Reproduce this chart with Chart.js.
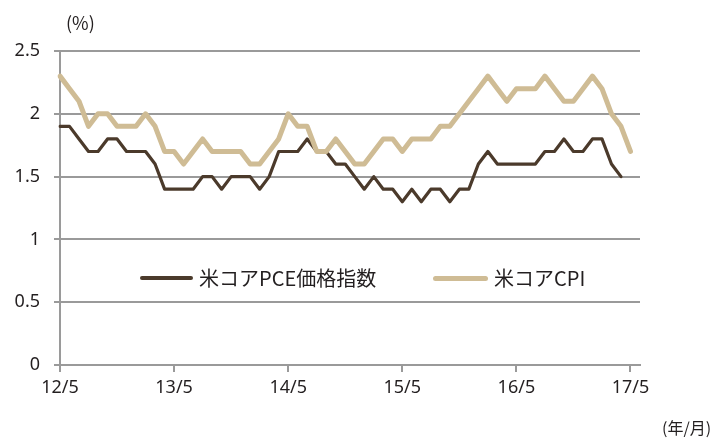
<!DOCTYPE html>
<html>
<head>
<meta charset="utf-8">
<script src="https://cdn.jsdelivr.net/npm/chart.js@4.4.1/dist/chart.umd.min.js"></script>
<style>
  html, body { margin: 0; padding: 0; background: #fff; }
  #wrap { position: relative; width: 720px; height: 438px; }
  .txt { position: absolute; font-family: "Noto Sans CJK JP", "Noto Sans", sans-serif; color: #231f20; white-space: nowrap; }
  .swatch { position: absolute; border-radius: 3px; }
</style>
</head>
<body>
<div id="wrap">
  <canvas id="myChart" width="720" height="438"></canvas>
  <div class="txt" style="left:66px; top:9px; font-size:18px;">(%)</div>
  <div class="txt" style="left:662px; top:415px; font-size:16px;">(年/月)</div>
  <div id="legend"></div>
</div>
<script>
// 月次ラベル 12/5 〜 17/5（軸は右端に1か月分の余白）
var labels = [];
for (var y = 12; y <= 17; y++) {
    for (var m = 1; m <= 12; m++) {
        if ((y === 12 && m < 5) || (y === 17 && m > 5)) continue;
        labels.push(y + '/' + m);
    }
}
labels.push('');

var pceLabel = '米コアPCE価格指数';
var cpiLabel = '米コアCPI';

// 米コアPCE価格指数（前年比, %）
var pceValues = [
    1.9, 1.9, 1.8, 1.7, 1.7, 1.8, 1.8, 1.7, 1.7, 1.7, 1.6, 1.4,
    1.4, 1.4, 1.4, 1.5, 1.5, 1.4, 1.5, 1.5, 1.5, 1.4, 1.5, 1.7,
    1.7, 1.7, 1.8, 1.7, 1.7, 1.6, 1.6, 1.5, 1.4, 1.5, 1.4, 1.4,
    1.3, 1.4, 1.3, 1.4, 1.4, 1.3, 1.4, 1.4, 1.6, 1.7, 1.6, 1.6,
    1.6, 1.6, 1.6, 1.7, 1.7, 1.8, 1.7, 1.7, 1.8, 1.8, 1.6, 1.5, null
];

// 米コアCPI（前年比, %）
var cpiValues = [
    2.3, 2.2, 2.1, 1.9, 2.0, 2.0, 1.9, 1.9, 1.9, 2.0, 1.9, 1.7,
    1.7, 1.6, 1.7, 1.8, 1.7, 1.7, 1.7, 1.7, 1.6, 1.6, 1.7, 1.8,
    2.0, 1.9, 1.9, 1.7, 1.7, 1.8, 1.7, 1.6, 1.6, 1.7, 1.8, 1.8,
    1.7, 1.8, 1.8, 1.8, 1.9, 1.9, 2.0, 2.1, 2.2, 2.3, 2.2, 2.1,
    2.2, 2.2, 2.2, 2.3, 2.2, 2.1, 2.1, 2.2, 2.3, 2.2, 2.0, 1.9, 1.7
];

var yTicks = [0, 0.5, 1, 1.5, 2, 2.5];

var pceColor = '#4b3a2b';
var cpiColor = '#cfbc95';
var gridColor = '#9a9a9a';
var tickFont = { family: '"Noto Sans", "Open Sans", sans-serif', size: 18 };

var datasets = [
    { label: pceLabel, data: pceValues, borderColor: pceColor, borderWidth: 3.2, order: 1,
      legendWidth: 4, legendLeft: 140, legendLen: 53 },
    { label: cpiLabel, data: cpiValues, borderColor: cpiColor, borderWidth: 5, order: 0,
      legendWidth: 5, legendLeft: 433, legendLen: 55 }
];

var ctx = document.getElementById('myChart').getContext('2d');
var chart = new Chart(ctx, {
    type: 'line',
    data: {
        labels: labels,
        datasets: datasets.map(function(d) {
            return {
                label: d.label,
                data: d.data,
                borderColor: d.borderColor,
                backgroundColor: d.borderColor,
                borderWidth: d.borderWidth,
                order: d.order,
                pointRadius: 0,
                tension: 0,
                borderJoinStyle: 'round',
                borderCapStyle: 'round'
            };
        })
    },
    options: {
        responsive: false,
        devicePixelRatio: 1,
        animation: false,
        layout: { padding: { top: 51, right: 80, bottom: 0, left: 0 } },
        plugins: {
            legend: { display: false },
            tooltip: { enabled: false }
        },
        scales: {
            x: {
                type: 'category',
                offset: false,
                afterFit: function(scale) { scale.height = 73; },
                border: { display: true, color: gridColor, width: 2 },
                grid: {
                    drawOnChartArea: false,
                    drawTicks: true,
                    tickLength: 7,
                    lineWidth: 2,
                    color: function(c) {
                        return (c.index % 12 === 0 && labels[c.index] !== '') ? gridColor : 'rgba(0,0,0,0)';
                    }
                },
                ticks: {
                    autoSkip: false,
                    maxRotation: 0,
                    minRotation: 0,
                    padding: 5,
                    color: '#231f20',
                    font: tickFont,
                    callback: function(v, i) { return (i % 12 === 0) ? labels[i] : ''; }
                }
            },
            y: {
                min: 0,
                max: 2.5,
                afterFit: function(scale) { scale.width = 60; },
                afterBuildTicks: function(scale) {
                    scale.ticks = yTicks.map(function(v) { return { value: v }; });
                },
                border: { display: true, color: gridColor, width: 2 },
                grid: { color: gridColor, lineWidth: 2, tickLength: 6 },
                ticks: {
                    padding: 14,
                    color: '#231f20',
                    font: tickFont,
                    callback: function(v) { return String(v); }
                }
            }
        }
    }
});

// 凡例（グラフ内に配置）
var legend = document.getElementById('legend');
datasets.forEach(function(d) {
    var sw = document.createElement('div');
    sw.className = 'swatch';
    sw.style.left = d.legendLeft + 'px';
    sw.style.top = (278 - d.legendWidth / 2) + 'px';
    sw.style.width = d.legendLen + 'px';
    sw.style.height = d.legendWidth + 'px';
    sw.style.background = d.borderColor;
    legend.appendChild(sw);
    var t = document.createElement('div');
    t.className = 'txt';
    t.style.left = (d.legendLeft + d.legendLen + 6) + 'px';
    t.style.top = '264px';
    t.style.fontSize = '20px';
    t.style.lineHeight = '28px';
    t.textContent = d.label;
    legend.appendChild(t);
});
</script>
</body>
</html>
